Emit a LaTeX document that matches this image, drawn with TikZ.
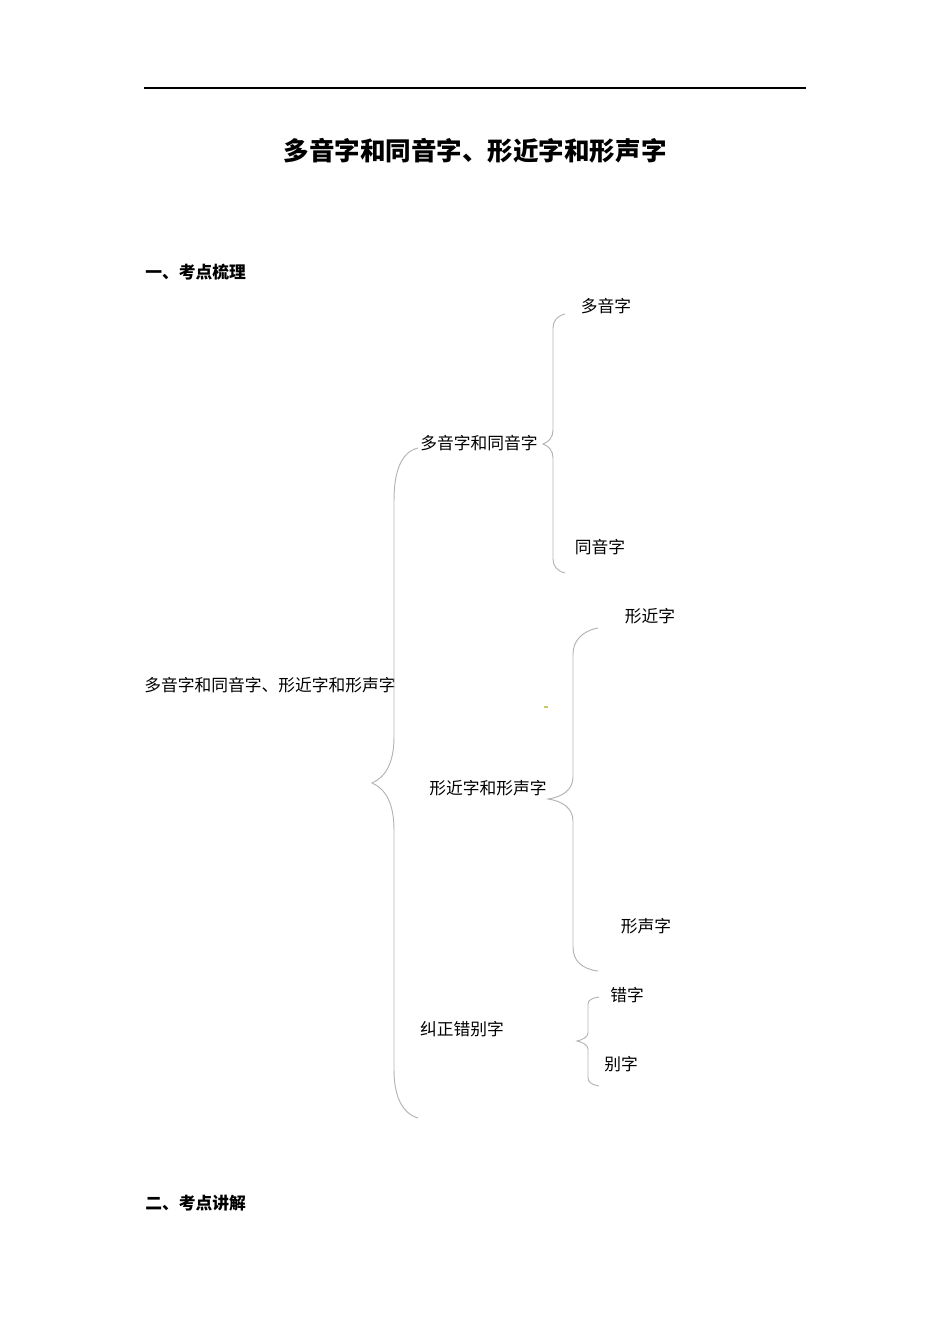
\documentclass[tikz,border=0pt]{standalone}
\usepackage{fontspec}
\setmainfont{Noto Sans CJK SC}
\usepackage{xcolor}
\usepackage{tikz}
\definecolor{bracegray}{HTML}{B4B4B4}
\definecolor{dashyellow}{HTML}{C8C864}
\tikzset{
  leaf/.style={inner sep=0pt, font=\fontsize{10.5pt}{12pt}\selectfont},
  head/.style={inner sep=0pt, anchor=west, font=\fontsize{10.5pt}{12pt}\selectfont\bfseries},
  brace/.style={draw=bracegray, line width=0.6pt}
}

\begin{document}
\begin{tikzpicture}[x=0.6265pt, y=-0.6265pt]
    \useasboundingbox (0,0) rectangle (950,1344);
    \draw[line width=0.8pt] (144,88) -- (806,88);
    \node[inner sep=0pt, font=\fontsize{16pt}{18pt}\selectfont\bfseries] (title) at (475,151) {多音字和同音字、形近字和形声字};
    \node[head] (h1) at (145,272) {一、考点梳理};
    \node[head] (h2) at (145,1203) {二、考点讲解};

    \node[leaf] (root) at (270,685) {多音字和同音字、形近字和形声字};
    \node[leaf] (dyt) at (479,443) {多音字和同音字};
    \node[leaf] (dy) at (606,306) {多音字};
    \node[leaf] (ty) at (600,547) {同音字};
    \node[leaf] (xjs) at (488,788) {形近字和形声字};
    \node[leaf] (xj) at (650,616) {形近字};
    \node[leaf] (xs) at (646,926) {形声字};
    \node[leaf] (jz) at (462,1029) {纠正错别字};
    \node[leaf] (cz) at (627,995) {错字};
    \node[leaf] (bz) at (621,1064) {别字};

    % brace ends
    \coordinate (root-tip) at (372,783);
    \coordinate (dyt-in) at (418,448);
    \coordinate (jz-in) at (418,1118);
    \coordinate (dyt-tip) at (543,444);
    \coordinate (dy-in) at (565,314);
    \coordinate (ty-in) at (565,573);
    \coordinate (xjs-tip) at (548,799);
    \coordinate (xj-in) at (598,628);
    \coordinate (xs-in) at (598,971);
    \coordinate (jz-tip) at (577,1041);
    \coordinate (cz-in) at (599,997);
    \coordinate (bz-in) at (599,1086);

    \draw[brace] (dyt-in) .. controls (401,452) and (394,472) .. (394,500) -- (394,737)
      .. controls (394,762) and (386,777) .. (root-tip)
      .. controls (386,789) and (394,804) .. (394,830) -- (394,1070)
      .. controls (394,1094) and (401,1113) .. (jz-in);
    \draw[brace] (dy-in) .. controls (557,316) and (553,321) .. (553,328) -- (553,430)
      .. controls (553,437) and (549,442) .. (dyt-tip)
      .. controls (549,446) and (553,451) .. (553,458) -- (553,559)
      .. controls (553,566) and (557,571) .. (ty-in);
    \draw[brace] (xj-in) .. controls (582,631) and (573,641) .. (573,654) -- (573,777)
      .. controls (573,790) and (562,797) .. (xjs-tip)
      .. controls (562,801) and (573,808) .. (573,821) -- (573,947)
      .. controls (573,961) and (582,969) .. (xs-in);
    \draw[brace] (cz-in) .. controls (592,998) and (588,1000) .. (588,1004) -- (588,1033)
      .. controls (588,1037) and (582,1040) .. (jz-tip)
      .. controls (582,1042) and (588,1045) .. (588,1049) -- (588,1078)
      .. controls (588,1082) and (592,1085) .. (bz-in);

    \fill[dashyellow] (544,706) rectangle (548,708);
\end{tikzpicture}
\end{document}
